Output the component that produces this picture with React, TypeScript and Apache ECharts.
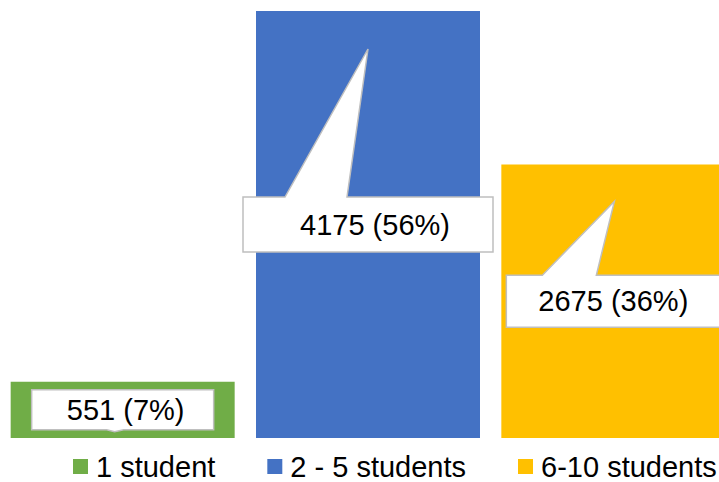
import React, { useEffect, useRef } from "react";
import * as echarts from "echarts";

const categories = ["1 student", "2 - 5 students", "6-10 students"];
const counts = [551, 4175, 2675];
const percents = [7, 56, 36];
const colors = ["#70AD47", "#4472C4", "#FFC000"];

// callout geometry (layout only, relative to bar centre / bar top)
const calloutLayout = [
  { w: 182, h: 40, textDx: 3, edge: "bottom", x0: -16, x1: 1, tipDx: -8, tipDy: 2 },
  { w: 250, h: 55, textDx: 7, edge: "top", x0: -83, x1: -21, tipDx: 0, tipDy: 38 },
  { w: 214, h: 52, textDx: 0, edge: "top", x0: -71, x1: -17, tipDx: 1, tipDy: 37 },
];

const FONT = "Liberation Sans, Arial, sans-serif";

export default function App() {
  const ref = useRef<HTMLDivElement>(null);
  useEffect(() => {
    document.body.style.margin = "0";
    const chart = echarts.init(ref.current!, null, { renderer: "svg" });
    const barSeries = categories.map((name, i) => ({
      name,
      type: "bar",
      stack: "all",
      barWidth: 224,
      itemStyle: { color: colors[i] },
      data: counts.map((v, j) => (j === i ? v : "-")),
      z: 2,
    }));
    const option: any = {
      animation: false,
      grid: { left: 0, width: 736, top: 11, bottom: 44, outerBoundsMode: "none", containLabel: false },
      xAxis: { type: "category", data: categories, show: false },
      yAxis: { type: "value", min: 0, max: Math.max(...counts), show: false },
      legend: {
        data: categories,
        left: 73,
        top: 452,
        width: 900,
        padding: 0,
        icon: "rect",
        itemWidth: 15,
        itemHeight: 15,
        itemGap: 52,
        textStyle: {
          fontSize: 29,
          fontFamily: FONT,
          color: "#000",
          lineHeight: 29,
          padding: [0, 0, 0, 3],
        },
      },
      series: [
        ...barSeries,
        {
          type: "custom",
          z: 10,
          silent: true,
          encode: { x: 0, y: 1 },
          data: counts.map((v, i) => [i, v]),
          renderItem: (params: any, api: any) => {
            const i = params.dataIndex;
            const v = api.value(1);
            const top = api.coord([i, v]);
            const base = api.coord([i, 0]);
            const cx = top[0];
            const midY = (top[1] + base[1]) / 2;
            const L = calloutLayout[i];
            const l = cx - L.w / 2;
            const r = cx + L.w / 2;
            const t = midY - L.h / 2;
            const b = midY + L.h / 2;
            let pts: number[][];
            if (L.edge === "top") {
              pts = [
                [l, t],
                [cx + L.x0, t],
                [cx + L.tipDx, top[1] + L.tipDy],
                [cx + L.x1, t],
                [r, t],
                [r, b],
                [l, b],
              ];
            } else {
              pts = [
                [l, t],
                [r, t],
                [r, b],
                [cx + L.x1, b],
                [cx + L.tipDx, b + L.tipDy],
                [cx + L.x0, b],
                [l, b],
              ];
            }
            return {
              type: "group",
              children: [
                {
                  type: "polygon",
                  shape: { points: pts },
                  style: { fill: "#fff", stroke: "#BFBFBF", lineWidth: 1.5 },
                },
                {
                  type: "text",
                  style: {
                    text: `${counts[i]} (${percents[i]}%)`,
                    x: cx + L.textDx,
                    y: midY,
                    align: "center",
                    verticalAlign: "middle",
                    fontSize: 29,
                    fontFamily: FONT,
                    fill: "#000",
                  },
                },
              ],
            };
          },
        },
      ],
    };
    chart.setOption(option);
    return () => chart.dispose();
  }, []);
  return <div ref={ref} style={{ width: 719, height: 482 }} />;
}
